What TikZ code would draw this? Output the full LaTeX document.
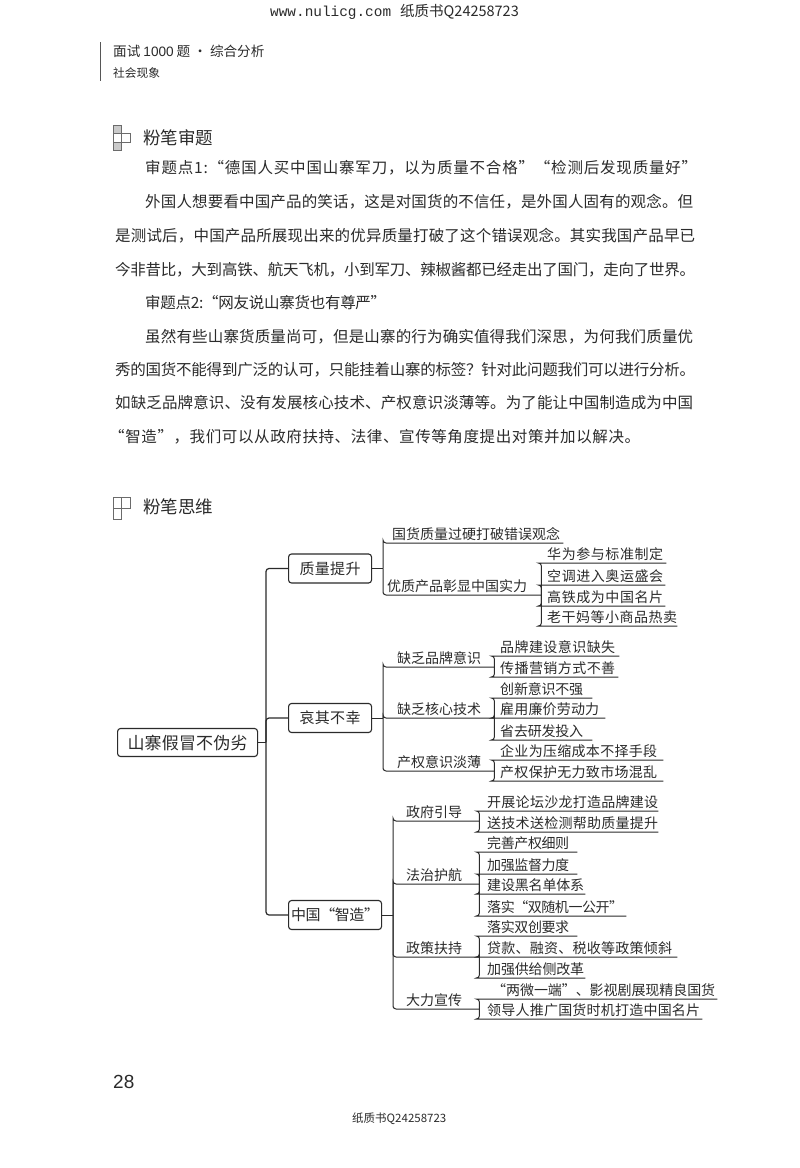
\documentclass[tikz,border=0pt]{standalone}
\usepackage{fontspec}
\setmainfont{Noto Sans CJK SC}
\newfontfamily\monof{Liberation Mono}
\newfontfamily\latf{Liberation Sans}
\def\fs#1{\fontsize{#1pt}{#1pt}\selectfont}
% spread single-token characters over a given width
\def\sx#1#2{\hbox to #1pt{\sxaux#2\relax}}
\def\sxaux#1#2{#1\ifx#2\relax\else\hskip 0pt plus 1fil minus 1fil\expandafter\sxaux\expandafter#2\fi}
\definecolor{ink}{gray}{0.17}
\tikzset{
  bodyline/.style={anchor=base west,inner sep=0pt,text=ink},
  topic/.style={draw=ink,line width=1.1pt,rounded corners=3pt,inner sep=0pt,minimum height=29pt,text=ink,font=\fs{15}},
  lbl/.style={anchor=south west,inner sep=0pt,text=ink,font=\fs{14}},
  conn/.style={draw=ink,line width=1pt,rounded corners=3pt},
  icon/.style={draw=ink!70,line width=.7pt,fill=white},
  iconshade/.style={draw=ink!70,line width=.7pt,fill=ink!25}
}
% name, x0, x1, y(underline), pad, text width, text
\newcommand\lab[7]{\node[lbl] (#1) at (#2,#4) {\hbox to \dimexpr#3pt-#2pt\relax{\rule[-3pt]{0pt}{17pt}\hspace*{#5pt}\sx{#6}{#7}\hfil}};}
% parent point, child name
\newcommand\lk[2]{\draw[conn] (#1) |- (#2.south west) -- (#2.south east);}
\begin{document}
\begin{tikzpicture}[x=1pt,y=-1pt]
\useasboundingbox (0,0) rectangle (800,1168);
\fill[white] (0,0) rectangle (800,1168);

% page furniture
\node[bodyline] (urla) at (270,16) {\monof\fs{14.4}www.nulicg.com};
\node[bodyline] (urlb) at (400,16) {\fs{14.5}纸质书Q24258723};
\node[bodyline] (foot) at (352,1122) {\fs{11.5}纸质书Q24258723};
\node[bodyline] (page) at (113,1088) {\latf\fs{19}28};
\draw[ink!80,line width=1pt] (100.5,42) -- (100.5,81);
\node[bodyline] (hda) at (113,56) {\fs{13.6}面试 {\latf 1000} 题 · 综合分析};
\node[bodyline] (hdb) at (113,77) {\fs{11.7}社会现象};

% section icons
\draw[iconshade] (113,125) rectangle (121,133);
\draw[icon] (113,133) rectangle (121,142);
\draw[icon] (121,133) rectangle (130,142);
\draw[iconshade] (113,142) rectangle (121,150);
\draw[icon] (113,497) rectangle (121,508);
\draw[icon] (121,497) rectangle (130,508);
\draw[icon] (113,508) rectangle (121,519);
\node[bodyline] (ha) at (143,144) {\fs{17.5}粉笔审题};
\node[bodyline] (hb) at (143,513) {\fs{17.5}粉笔思维};

% body
\begin{scope}[every node/.append style={font=\fs{15.5}}]
\node[bodyline] (b1) at (145,173) {\sx{552}{审题点1:“德国人买中国山寨军刀^^^^ff0c以为质量不合格”“检测后发现质量好”}};
\node[bodyline] (b2) at (145,207) {\sx{548}{外国人想要看中国产品的笑话^^^^ff0c这是对国货的不信任^^^^ff0c是外国人固有的观念。但}};
\node[bodyline] (b3) at (115,241) {\sx{580}{是测试后^^^^ff0c中国产品所展现出来的优异质量打破了这个错误观念。其实我国产品早已}};
\node[bodyline] (b4) at (115,275) {\sx{580}{今非昔比^^^^ff0c大到高铁、航天飞机^^^^ff0c小到军刀、辣椒酱都已经走出了国门^^^^ff0c走向了世界。}};
\node[bodyline] (b5) at (145,308) {\sx{241}{审题点2:“网友说山寨货也有尊严”}};
\node[bodyline] (b6) at (145,342) {\sx{548}{虽然有些山寨货质量尚可^^^^ff0c但是山寨的行为确实值得我们深思^^^^ff0c为何我们质量优}};
\node[bodyline] (b7) at (115,375) {\sx{580}{秀的国货不能得到广泛的认可^^^^ff0c只能挂着山寨的标签^^^^ff1f针对此问题我们可以进行分析。}};
\node[bodyline] (b8) at (115,408) {\sx{578}{如缺乏品牌意识、没有发展核心技术、产权意识淡薄等。为了能让中国制造成为中国}};
\node[bodyline] (b9) at (109,442) {\sx{531}{“智造”^^^^ff0c我们可以从政府扶持、法律、宣传等角度提出对策并加以解决。}};
\end{scope}

% topics
\node[topic,font=\fs{17},minimum width=140pt,minimum height=28pt,anchor=west] (root) at (117,742.5) {\sx{120}{山寨假冒不伪劣}};
\node[topic,minimum width=83pt,anchor=west] (t1) at (288,568.5) {\sx{61}{质量提升}};
\node[topic,minimum width=83pt,anchor=west] (t2) at (288,718) {\sx{61}{哀其不幸}};
\node[topic,minimum width=93pt,anchor=west] (t3) at (288,915) {\sx{88}{中国“智造”}};
\coordinate (trunk) at (266,742.5);
\draw[conn,line width=1.2pt] (root.east) -- (trunk);
\draw[conn,line width=1.2pt] (trunk) |- (t1.west);
\draw[conn,line width=1.2pt] (trunk) |- (t2.west);
\draw[conn,line width=1.2pt] (trunk) |- (t3.west);

% branch 1
\coordinate (j1) at (383,568.5);
\draw[conn] (t1.east) -- (j1);
\lab{a1}{383}{563}{543}{9}{168}{国货质量过硬打破错误观念}
\lab{a2}{383}{541}{595}{4}{140}{优质产品彰显中国实力}
\lk{j1}{a1}\lk{j1}{a2}
\lab{a21}{541}{666}{563}{6}{116}{华为参与标准制定}
\lab{a22}{541}{665}{585}{6}{116}{空调进入奥运盛会}
\lab{a23}{541}{665}{606}{6}{116}{高铁成为中国名片}
\lab{a24}{541}{677}{626}{6}{130}{老干妈等小商品热卖}
\foreach \n in {a21,a22,a23,a24} {\lk{a2.south east}{\n}}

% branch 2
\coordinate (j2) at (383,718);
\draw[conn] (t2.east) -- (j2);
\lab{b1x}{383}{494}{667}{14}{84}{缺乏品牌意识}
\lab{b2x}{383}{494}{718}{14}{84}{缺乏核心技术}
\lab{b3x}{383}{494}{771}{14}{84}{产权意识淡薄}
\lk{j2}{b1x}\lk{j2}{b2x}\lk{j2}{b3x}
\lab{b11}{494}{619}{656}{6}{115}{品牌建设意识缺失}
\lab{b12}{494}{618}{677}{6}{115}{传播营销方式不善}
\foreach \n in {b11,b12} {\lk{b1x.south east}{\n}}
\lab{b21}{494}{592}{698}{6}{83}{创新意识不强}
\lab{b22}{494}{605}{718}{6}{99}{雇用廉价劳动力}
\lab{b23}{494}{592}{740}{6}{83}{省去研发投入}
\foreach \n in {b21,b22,b23} {\lk{b2x.south east}{\n}}
\lab{b31}{494}{663}{760}{6}{157}{企业为压缩成本不择手段}
\lab{b32}{494}{663}{781}{6}{157}{产权保护无力致市场混乱}
\foreach \n in {b31,b32} {\lk{b3x.south east}{\n}}

% branch 3
\coordinate (j3) at (393,915);
\draw[conn] (t3.east) -- (j3);
\lab{c1}{393}{479}{821}{13}{56}{政府引导}
\lab{c2}{393}{479}{884}{13}{56}{法治护航}
\lab{c3}{393}{479}{957}{13}{56}{政策扶持}
\lab{c4}{393}{479}{1009}{13}{56}{大力宣传}
\lk{j3}{c1}\lk{j3}{c2}\lk{j3}{c3}\lk{j3}{c4}
\lab{c11}{479}{658}{811}{8}{171}{开展论坛沙龙打造品牌建设}
\lab{c12}{479}{658}{832}{8}{171}{送技术送检测帮助质量提升}
\foreach \n in {c11,c12} {\lk{c1.south east}{\n}}
\lab{c21}{479}{577}{852}{8}{82}{完善产权细则}
\lab{c22}{479}{577}{874}{8}{82}{加强监督力度}
\lab{c23}{479}{585}{894}{8}{97}{建设黑名单体系}
\lab{c24}{479}{626}{916}{8}{136}{落实“双随机一公开”}
\foreach \n in {c21,c22,c23,c24} {\lk{c2.south east}{\n}}
\lab{c31}{479}{577}{936}{8}{82}{落实双创要求}
\lab{c32}{479}{677}{957}{8}{185}{贷款、融资、税收等政策倾斜}
\lab{c33}{479}{585}{978}{8}{97}{加强供给侧改革}
\foreach \n in {c31,c32,c33} {\lk{c3.south east}{\n}}
\lab{c41}{479}{717}{999}{13}{223}{“两微一端”、影视剧展现精良国货}
\lab{c42}{479}{702}{1019}{8}{213}{领导人推广国货时机打造中国名片}
\foreach \n in {c41,c42} {\lk{c4.south east}{\n}}
\end{tikzpicture}
\end{document}
